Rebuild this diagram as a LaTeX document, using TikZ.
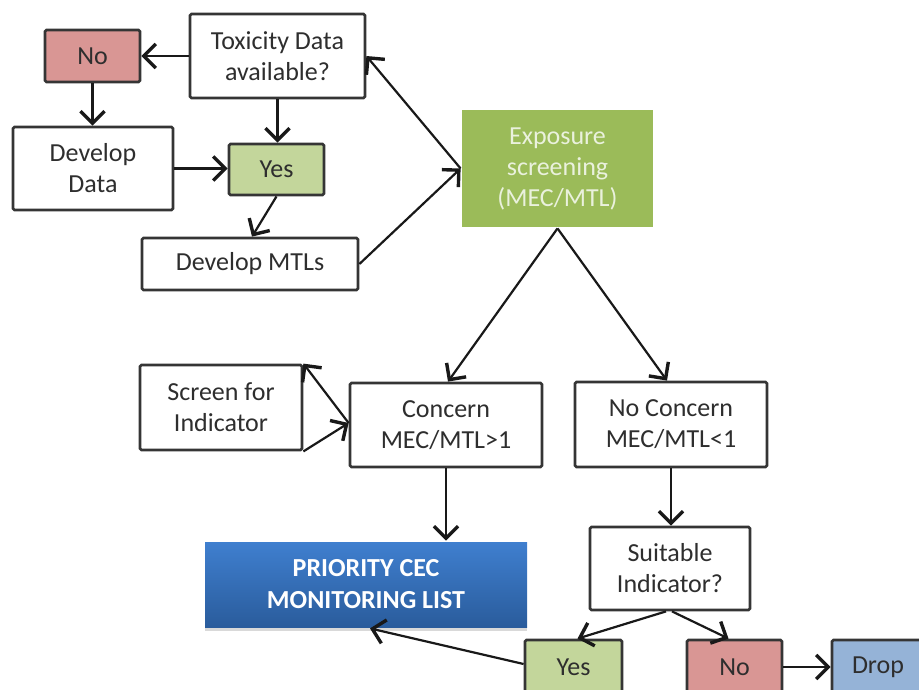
\documentclass[tikz,border=0pt]{standalone}
\usepackage{fontspec}
\setmainfont{Carlito}
\usetikzlibrary{arrows.meta,shadows,calc}
\definecolor{boxline}{HTML}{353535}
\definecolor{txt}{HTML}{2E2E2E}
\definecolor{nored}{HTML}{D99694}
\definecolor{yesgreen}{HTML}{C3D69B}
\definecolor{expgreen}{HTML}{9BBB59}
\definecolor{expotext}{HTML}{EAF1DD}
\definecolor{dropblue}{HTML}{95B3D7}
\definecolor{priotop}{HTML}{3F7FCF}
\definecolor{priobot}{HTML}{2A5C9C}
\tikzset{
  box/.style={draw=boxline, line width=2.8pt, rounded corners=1.5pt, fill=white,
    text=txt, align=center, inner sep=0pt, font=\fontsize{26}{31}\selectfont},
  conn/.style={draw=black!90, line width=2.2pt,
    -{Straight Barb[length=12pt,width=24pt,line width=3.4pt]}},
}
\begin{document}
\begin{tikzpicture}[x=1pt,y=-1pt]
\useasboundingbox (0,0) rectangle (919,689);
\clip (0,0) rectangle (919,689);
% top part
\node[box, fill=nored, minimum width=95pt, minimum height=52pt] (no1) at (92.5,56) {No};
\node[box, minimum width=175pt, minimum height=84pt] (tox) at (277.5,56) {Toxicity Data\\available?};
\node[box, minimum width=160pt, minimum height=83pt] (devdata) at (93,168.5) {Develop\\Data};
\node[box, fill=yesgreen, minimum width=95pt, minimum height=51pt] (yes1) at (276.5,169.5) {Yes};
\node[box, minimum width=216pt, minimum height=52pt] (devmtl) at (250,264) {Develop MTLs};
\node[box, draw=none, rounded corners=0pt, fill=expgreen, text=expotext, minimum width=191pt, minimum height=117pt] (expo) at (557.5,168.5) {Exposure\\screening\\(MEC/MTL)};
% middle
\node[box, minimum width=162pt, minimum height=85pt] (screen) at (221,407.5) {Screen for\\Indicator};
\node[box, minimum width=192pt, minimum height=84pt] (concern) at (446,425) {Concern\\MEC/MTL>1};
\node[box, minimum width=192pt, minimum height=85pt] (nocon) at (671,424.5) {No Concern\\MEC/MTL<1};
\node[box, draw=none, rounded corners=0pt, top color=priotop, bottom color=priobot, text=white,
  font=\fontsize{26}{32}\selectfont\bfseries, minimum width=322pt, minimum height=85pt,
  drop shadow={shadow xshift=0pt, shadow yshift=-4pt, opacity=0.3}] (prio) at (366,584.5) {PRIORITY CEC\\MONITORING LIST};
\node[box, minimum width=160pt, minimum height=83pt] (suit) at (670,568.5) {Suitable\\Indicator?};
% bottom row
\node[box, fill=yesgreen, minimum width=97pt, minimum height=54pt] (yes2) at (573.5,667) {Yes};
\node[box, fill=nored, minimum width=95pt, minimum height=54pt] (no2) at (734.5,667) {No};
\node[box, fill=dropblue, minimum width=92pt, minimum height=54pt] (drop) at (878,667) {Drop};
% connectors
\draw[conn] (tox.west) -- (no1.east);
\draw[conn] (no1.south) -- (no1.south |- devdata.north);
\draw[conn] (tox.south) -- (tox.south |- yes1.north);
\draw[conn] (devdata.east) -- (devdata.east -| yes1.west);
\draw[conn] (yes1.south) -- ($(devmtl.north)+(2,0)$);
\draw[conn] (devmtl.east) -- (expo.west);
\draw[conn] (expo.west) -- (tox.east);
\draw[conn] (expo.south) -- ($(concern.north)+(2,0)$);
\draw[conn] (expo.south) -- ($(nocon.north)+(-4,0)$);
\draw[conn] ($(concern.west)+(0,-2)$) -- (screen.north east);
\draw[conn] (screen.south east) -- ($(concern.west)+(0,-2)$);
\draw[conn] (concern.south) -- (concern.south |- prio.north);
\draw[conn] (nocon.south) -- (nocon.south |- suit.north);
\draw[conn] ($(suit.south)+(-4,0)$) -- ($(yes2.north)+(4,0)$);
\draw[conn] ($(suit.south)+(2,0)$) -- ($(no2.north)+(-6,0)$);
\draw[conn] (no2.east) -- (drop.west);
\draw[conn] ($(yes2.west)+(0,-3)$) -- ($(prio.south)+(4,0)$);
\end{tikzpicture}
\end{document}
